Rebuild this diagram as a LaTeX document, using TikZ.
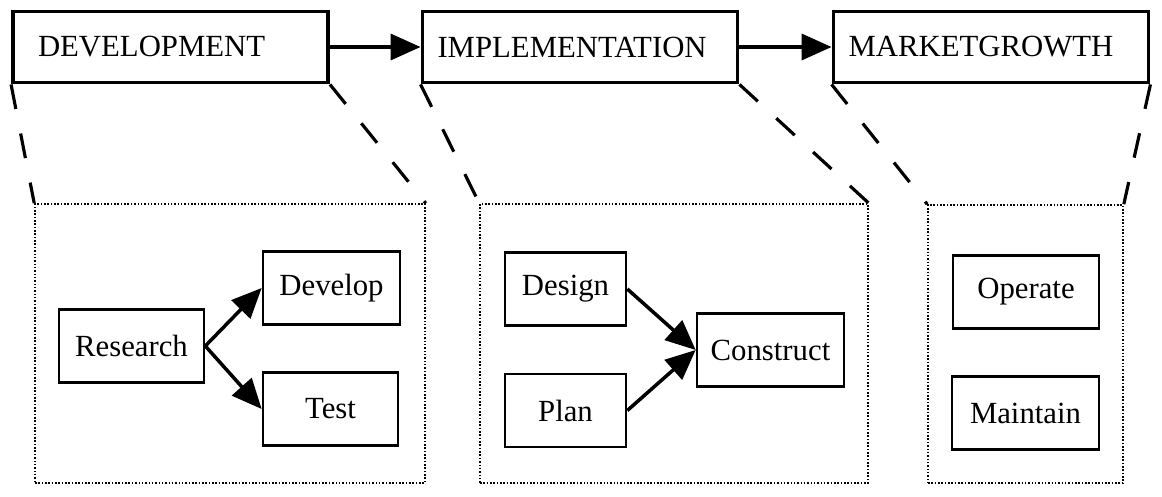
\documentclass[tikz,border=0pt]{standalone}
\usepackage{fontspec}
\setmainfont{Liberation Serif}
\usetikzlibrary{arrows.meta}

\tikzset{
  phase/.style={draw, line width=2.2pt, minimum height=1.42cm, align=left,
    inner xsep=0.3cm, text width=5.7cm},
  group/.style={draw, densely dotted, line width=0.9pt, inner sep=0pt},
  task/.style={draw, line width=1.5pt, minimum height=1.46cm},
  flow/.style={-{Triangle[length=0.6cm,width=0.52cm]}, line width=2pt},
  zoomline/.style={line width=1.8pt, dash pattern=on 0.5cm off 0.5cm}
}

\begin{document}
\begin{tikzpicture}[font=\fontsize{17.5}{20}\selectfont]
    \useasboundingbox (0,0) rectangle (23.24,9.92);
    % Fases
    \node[phase, inner xsep=0.5cm, text width=5.3cm] (dev) at (3.41,8.98) {DEVELOPMENT};
    \node[phase] (imp) at (11.6,8.98) {IMPLEMENTATION};
    \node[phase] (mkt) at (19.82,8.98) {MARKETGROWTH};
    \draw[flow] (dev) -- (imp);
    \draw[flow] (imp) -- (mkt);
    % Grupos
    \node[group, minimum width=7.8cm, minimum height=5.58cm] (grpdev) at (4.6,3.05) {};
    \node[group, minimum width=7.76cm, minimum height=5.58cm] (grpimp) at (13.48,3.05) {};
    \node[group, minimum width=3.9cm, minimum height=5.56cm] (grpmkt) at (20.51,3.04) {};
    % Lineas discontinuas
    \draw[zoomline] (dev.south west) -- (grpdev.north west);
    \draw[zoomline] (dev.south east) -- (grpdev.north east);
    \draw[zoomline] (imp.south west) -- (grpimp.north west);
    \draw[zoomline] (imp.south east) -- (grpimp.north east);
    \draw[zoomline] (mkt.south west) -- (grpmkt.north west);
    \draw[zoomline] (mkt.south east) -- (grpmkt.north east);
    % Tareas
    \node[task, minimum width=2.9cm] (research) at (2.63,3.0) {Research};
    \node[task, minimum width=2.74cm] (develop) at (6.63,4.16) {Develop};
    \node[task, minimum width=2.7cm] (test) at (6.61,1.74) {Test};
    \draw[flow] (research.east) -- (develop.west);
    \draw[flow] (research.east) -- (test.west);
    \node[task, minimum width=2.42cm] (design) at (11.31,4.14) {Design};
    \node[task, minimum width=2.42cm] (plan) at (11.31,1.71) {Plan};
    \node[task, minimum width=2.94cm] (construct) at (15.41,2.92) {Construct};
    \draw[flow] (design.east) -- (construct.west);
    \draw[flow] (plan.east) -- (construct.west);
    \node[task, minimum width=2.92cm] (operate) at (20.52,4.08) {Operate};
    \node[task, minimum width=2.94cm] (maintain) at (20.51,1.66) {Maintain};
\end{tikzpicture}
\end{document}
